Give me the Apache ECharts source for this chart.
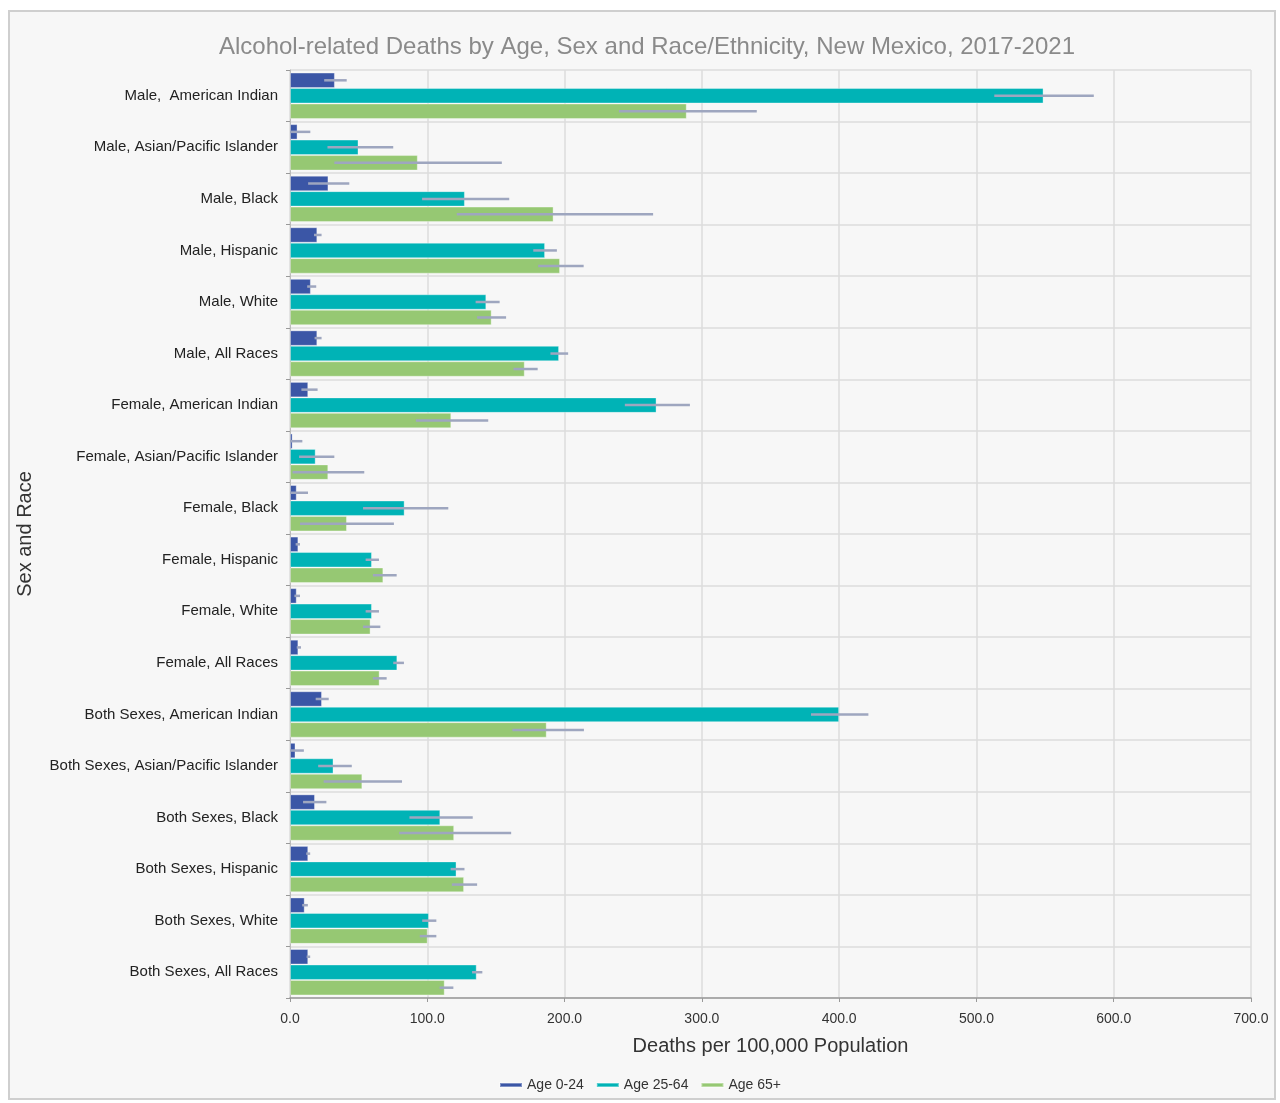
<!DOCTYPE html>
<html><head><meta charset="utf-8">
<script src="https://cdn.jsdelivr.net/npm/echarts@6/dist/echarts.min.js"></script>
<style>
html,body{margin:0;padding:0;background:#fff;}
#frame{position:absolute;left:8px;top:10px;width:1268px;height:1090px;border:2px solid #cfcfcf;background:#f7f7f7;box-sizing:border-box;}
#c{position:absolute;left:0;top:0;width:1280px;height:1103px;}
</style></head>
<body><div id="frame"></div><div id="c"></div>
<script>
const categories = ["Male,  American Indian","Male, Asian/Pacific Islander","Male, Black","Male, Hispanic","Male, White","Male, All Races",
"Female, American Indian","Female, Asian/Pacific Islander","Female, Black","Female, Hispanic","Female, White","Female, All Races",
"Both Sexes, American Indian","Both Sexes, Asian/Pacific Islander","Both Sexes, Black","Both Sexes, Hispanic","Both Sexes, White","Both Sexes, All Races"];
const seriesNames = ["Age 0-24","Age 25-64","Age 65+"];
const xTicks = [0,100,200,300,400,500,600,700];

const age0_24   = [32.7, 5.5, 28.0, 19.9, 15.2, 19.9, 13.3, 1.9, 4.9, 6.1, 4.9, 6.1, 23.3, 4.0, 18.2, 13.3, 10.7, 13.3];
const age0_24lo = [24.9, 0.0, 13.2, 17.5, 12.5, 17.9, 8.3, 0.0, 0.0, 4.1, 3.2, 4.9, 18.7, 0.0, 9.5, 11.8, 8.9, 12.1];
const age0_24hi = [41.3, 14.8, 43.2, 23.0, 19.1, 23.0, 20.1, 9.0, 13.1, 7.3, 7.3, 8.0, 28.2, 10.1, 26.5, 14.7, 13.0, 14.7];

const age25_64   = [548.9, 49.9, 127.4, 185.8, 143.0, 196.0, 267.0, 18.7, 83.5, 59.7, 59.7, 78.2, 400.0, 31.7, 109.5, 121.3, 101.2, 136.0];
const age25_64lo = [513.0, 27.3, 96.2, 177.2, 135.2, 189.7, 243.9, 6.6, 53.2, 55.1, 55.1, 75.2, 379.5, 20.5, 87.0, 117.0, 96.3, 132.6];
const age25_64hi = [585.5, 75.2, 159.7, 194.4, 152.7, 202.6, 291.3, 32.3, 115.3, 64.8, 64.8, 83.0, 421.3, 45.0, 133.1, 127.1, 106.6, 140.1];

const age65   = [289.0, 93.1, 192.0, 196.7, 146.9, 171.0, 117.5, 27.9, 41.5, 68.0, 58.7, 65.3, 187.0, 52.7, 119.6, 126.8, 100.3, 112.7];
const age65lo = [239.6, 32.3, 121.5, 180.8, 136.3, 162.8, 91.7, 1.9, 7.3, 60.4, 53.2, 60.4, 162.0, 24.5, 79.5, 117.9, 94.5, 108.9];
const age65hi = [340.0, 154.3, 264.5, 213.9, 157.4, 180.4, 144.4, 54.1, 75.7, 77.7, 65.8, 70.4, 214.1, 81.6, 161.1, 136.3, 106.6, 119.0];

const values = [age0_24, age25_64, age65];
const lows = [age0_24lo, age25_64lo, age65lo];
const highs = [age0_24hi, age25_64hi, age65hi];
const colors = ["#3b56a6","#00b3b6","#96c873"];
const gapRatio = 0.1;

const chart = echarts.init(document.getElementById('c'), null, {renderer:'canvas'});
const font = '"Liberation Sans", Arial, sans-serif';

const series = [];
seriesNames.forEach((n,i)=>{
  series.push({
    name:n, type:'bar', data:values[i], barGap:'0%', barCategoryGap:(gapRatio*100)+'%',
    itemStyle:{color:colors[i], borderColor:'rgba(255,255,255,0.35)', borderWidth:1},
    emphasis:{disabled:true}
  });
});
seriesNames.forEach((n,i)=>{
  series.push({
    name:n+' err', type:'custom', z:5,
    data: categories.map((c,k)=>[lows[i][k], highs[i][k], k]),
    encode:{x:[0,1], y:2},
    renderItem:function(params, api){
      const k = api.value(2);
      const p1 = api.coord([api.value(0), k]);
      const p2 = api.coord([api.value(1), k]);
      const band = api.size([0,1])[1];
      const bw = band*(1-gapRatio)/3;
      const y = p1[1] + (i-1)*bw;
      return {type:'line', shape:{x1:p1[0], y1:y, x2:p2[0], y2:y},
        style:{stroke:'#9ea6bf', lineWidth:2.5}};
    },
    tooltip:{show:false}, silent:true
  });
});

chart.setOption({
  backgroundColor:'transparent',
  animation:false,
  title:{text:'Alcohol-related Deaths by Age, Sex and Race/Ethnicity, New Mexico, 2017-2021', left:642, top:30, textAlign:'center',
    textStyle:{fontFamily:font, fontWeight:'normal', fontSize:24, color:'#8a8a8a'}},
  legend:{data:seriesNames.map(n=>({name:n, icon:'rect'})), bottom:6, left:'center', itemWidth:22, itemHeight:4, itemGap:12,
    textStyle:{fontFamily:font, fontSize:14, color:'#333'}},
  grid:{left:290, right:29, top:70, bottom:105, containLabel:false, show:true, backgroundColor:'#f7f7f7', borderWidth:0},
  xAxis:{type:'value', min:0, max:700, interval:100,
    name:'Deaths per 100,000 Population', nameLocation:'middle', nameGap:38,
    nameTextStyle:{fontFamily:font, fontSize:20, color:'#333'},
    axisLabel:{formatter:v=>v.toFixed(1), fontFamily:font, fontSize:14, color:'#333', margin:14},
    axisLine:{show:true, lineStyle:{color:'#999', width:1.5}}, axisTick:{show:true, length:4, lineStyle:{color:'#999'}},
    splitLine:{show:true, lineStyle:{color:'#dcdcdc', width:1.5}}},
  yAxis:{type:'category', data:categories, inverse:true,
    name:'Sex and Race', nameLocation:'middle', nameGap:255, nameRotate:90,
    nameTextStyle:{fontFamily:font, fontSize:20, color:'#333'},
    axisLabel:{fontFamily:font, fontSize:15, color:'#222', margin:12},
    axisLine:{show:true, lineStyle:{color:'#bbb'}}, axisTick:{show:true, length:4, lineStyle:{color:'#999'}},
    splitLine:{show:true, lineStyle:{color:'#dcdcdc', width:1.5}}},
  series:series
});
</script></body></html>
